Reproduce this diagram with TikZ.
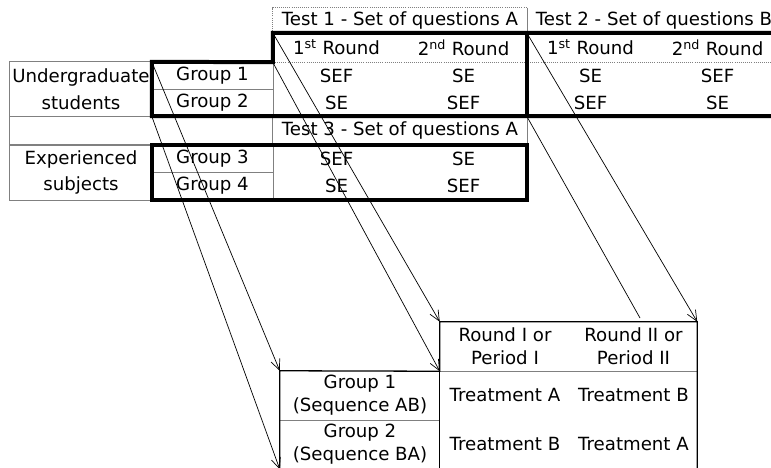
\documentclass[tikz,border=0pt]{standalone}
\usepackage{fontspec}
\setmainfont{DejaVu Sans}
\usetikzlibrary{arrows.meta}

\begin{document}
\begin{tikzpicture}[x=0.03cm, y=-0.03cm,
    every node/.style={inner sep=0pt, align=center, font=\fontsize{15.5}{19.5}\selectfont},
    side/.style={minimum width=4.26cm, minimum height=1.62cm, font=\fontsize{15.5}{23}\selectfont},
    grp/.style={minimum width=3.63cm, minimum height=0.81cm},
    head/.style={minimum width=7.62cm, minimum height=0.75cm},
    rnd/.style={minimum width=3.81cm, minimum height=0.87cm},
    val/.style={minimum width=3.81cm, minimum height=0.81cm},
    bgrp/.style={minimum width=4.8cm, minimum height=1.47cm},
    per/.style={minimum width=3.9cm, minimum height=1.47cm},
    frame/.style={line width=3.4pt},
    grid/.style={draw=black!50, line width=0.8pt},
    dots/.style={grid, densely dotted},
    border/.style={line width=1.1pt},
    wire/.style={line width=0.6pt},
    link/.style={wire, -{Straight Barb[length=9pt,width=8pt]}}]
    \useasboundingbox (0,0) rectangle (771,467);

    % top table
    \node[side] (und) at (81,89) {Undergraduate\\students};
    \node[side, minimum height=1.65cm] (exp) at (81,172.5) {Experienced\\subjects};
    \node[grp] (grp1) at (212.5,75.5) {Group 1};
    \node[grp] (grp2) at (212.5,102.5) {Group 2};
    \node[grp] (grp3) at (212.5,158.5) {Group 3};
    \node[grp] (grp4) at (212.5,186) {Group 4};
    \node[head] (t1) at (400,20.5) {Test 1 - Set of questions A};
    \node[head] (t2) at (654,20.5) {Test 2 - Set of questions B};
    \node[head, minimum height=0.87cm] (t3) at (400,130.5) {Test 3 - Set of questions A};

    \foreach \n/\s [count=\i] in {1/st,2/nd,1/st,2/nd} {
        \node[rnd] (r\i) at ({209.5+127*\i},47.5) {\n\textsuperscript{\s} Round};
    }
    \foreach \txt [count=\i] in {SEF,SE,SE,SEF} {
        \node[val] (a\i) at ({209.5+127*\i},75.5) {\txt};
    }
    \foreach \txt [count=\i] in {SE,SEF,SEF,SE} {
        \node[val] (b\i) at ({209.5+127*\i},102.5) {\txt};
    }
    \foreach \txt [count=\i] in {SEF,SE} {
        \node[val] (c\i) at ({209.5+127*\i},158.5) {\txt};
    }
    \foreach \txt [count=\i] in {SE,SEF} {
        \node[val] (d\i) at ({209.5+127*\i},186) {\txt};
    }

    \draw[grid] (und.north west) rectangle (und.south east);
    \draw[grid] (und.south west) rectangle (t3.south west);
    \draw[grid] (exp.north west) rectangle (exp.south east);
    \draw[grid] (grp1.south west) -- (grp1.south east) (grp3.south west) -- (grp3.south east);
    \draw[grid] (grp1.north east) -- (grp2.south east) (grp3.north east) -- (grp4.south east)
        (t3.north east) -- (t3.south east) (t1.north east) -- (t1.south east);
    \draw[dots] (t1.south west) -- (t1.north west) -- (t1.north east);
    \draw[dots] (r1.south west) -- (r4.south east);

    \draw[frame] (b4.south east) -- (grp2.south west) -- (grp1.north west) -- (r1.south west)
        -- (r1.north west) -- (r4.north east);
    \draw[frame] (r3.north west) -- (b3.south west);
    \draw[frame] (grp3.north west) rectangle (d2.south east);

    % bottom table
    \node[bgrp] (bg1) at (360,395.5) {Group 1\\(Sequence AB)};
    \node[bgrp] (bg2) at (360,444.5) {Group 2\\(Sequence BA)};
    \node[per] (ph1) at (505,346.5) {Round I or\\Period I};
    \node[per, minimum width=3.81cm] (ph2) at (633.5,346.5) {Round II or\\Period II};
    \node (ta1) at (505,395.5) {Treatment A};
    \node (tb1) at (633.5,395.5) {Treatment B};
    \node (tb2) at (505,444.5) {Treatment B};
    \node (ta2) at (633.5,444.5) {Treatment A};

    \draw[grid] (ph1.south west) -- (ph2.south east) (bg1.south west) -- (bg1.south east);
    \draw[border] (bg2.south west) -- (bg1.north west) -- (ph1.south west) -- (ph1.north west)
        -- (ph2.north east) -- (ph2.north east |- bg2.south);
    \draw[border] (ph1.south west) -- (ph1.south west |- bg2.south);

    % links
    \draw[link] (grp1.north west) -- (bg1.north west);
    \draw[link] (grp2.south west) -- (bg2.south west);
    \draw[link] (r1.north west) -- (ph1.north west);
    \draw[link] (r1.south west) -- (ph1.south west);
    \draw[link] (r3.north west) -- (ph2.north east);
    \coordinate (stub) at (640,318);
    \draw[wire] (b3.south west) -- (stub);
\end{tikzpicture}
\end{document}
